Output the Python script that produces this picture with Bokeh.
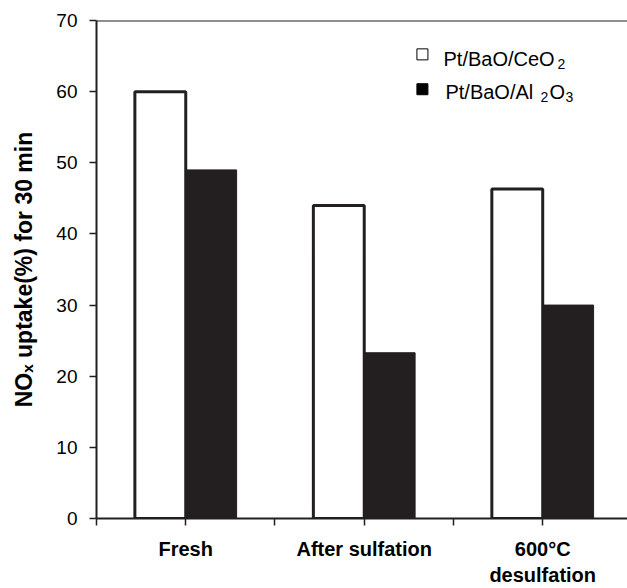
import numpy as np
from bokeh.plotting import figure
from bokeh.models import Range1d, Span, Label, FixedTicker, ColumnDataSource
from bokeh.embed import file_html
from bokeh.resources import INLINE

# ---- data ----
categories = ["Fresh", "After sulfation", "600°C\ndesulfation"]
ceo2_values = [60.0, 44.0, 46.3]      # Pt/BaO/CeO2 (white bars)
al2o3_values = [49.0, 23.3, 30.0]     # Pt/BaO/Al2O3 (black bars)
y_ticks = [0, 10, 20, 30, 40, 50, 60, 70]

INK = "#231f20"
FONT = "Liberation Sans"

cat_centers = np.arange(len(categories)) + 0.5
bar_w = 0.285

p = figure(width=627, height=588, output_backend="svg", toolbar_location=None,
           x_range=Range1d(0, 2.975), y_range=Range1d(0, 70),
           min_border_left=96, min_border_right=0, min_border_top=20,
           min_border_bottom=68)
p.outline_line_color = None
p.xgrid.visible = False
p.ygrid.visible = False
p.background_fill_color = "white"
p.border_fill_color = "white"

src = ColumnDataSource(dict(xw=cat_centers - bar_w / 2, xb=cat_centers + bar_w / 2,
                            ceo2=ceo2_values, al2o3=al2o3_values))
p.vbar(x="xw", top="ceo2", width=bar_w, bottom=0, source=src,
       fill_color="white", line_color=INK, line_width=3)
p.vbar(x="xb", top="al2o3", width=bar_w, bottom=0, source=src,
       fill_color=INK, line_color=INK, line_width=1)

# y axis
ya = p.yaxis[0]
ya.ticker = FixedTicker(ticks=y_ticks)
ya.axis_line_color = INK
ya.axis_line_width = 2
ya.major_tick_line_color = INK
ya.major_tick_line_width = 1.5
ya.major_tick_out = 7
ya.major_tick_in = 0
ya.minor_tick_line_color = None
ya.major_label_standoff = 12
ya.major_label_text_font = FONT
ya.major_label_text_font_size = "19px"
ya.major_label_text_color = "black"
ya.axis_label = "NO\u2093 uptake(%) for 30 min"
ya.axis_label_text_font = FONT
ya.axis_label_text_font_size = "23px"
ya.axis_label_text_font_style = "bold"
ya.axis_label_text_color = "black"
ya.axis_label_standoff = 16

# x axis: category names between the tick marks
xticks = [0, 0.5, 1, 1.5, 2, 2.5]
xa = p.xaxis[0]
xa.ticker = FixedTicker(ticks=xticks)
overrides = {t: "" for t in xticks}
for c, name in zip(cat_centers, categories):
    overrides[float(c)] = name
xa.major_label_overrides = overrides
xa.axis_line_color = INK
xa.axis_line_width = 2
xa.major_tick_line_color = INK
xa.major_tick_line_width = 1.5
xa.major_tick_out = 7
xa.major_tick_in = 0
xa.minor_tick_line_color = None
xa.major_label_standoff = 12
xa.major_label_text_font = FONT
xa.major_label_text_font_size = "20px"
xa.major_label_text_font_style = "bold"
xa.major_label_text_color = "black"

p.add_layout(Span(location=70, dimension="width", line_color=INK, line_width=2))

# ---- legend ----
def lab(x, y, text, size):
    p.add_layout(Label(x=x, y=y, text=text, text_font=FONT,
                       text_font_size=f"{size}px", text_align="left",
                       text_baseline="alphabetic", text_color="black"))

p.scatter(x=[1.826, 1.826], y=[65.24, 60.34], marker="square", size=11,
          fill_color=["white", "black"], line_color="black", line_width=1)
lab(1.944, 64.54, "Pt/BaO/CeO", 20)
lab(2.583, 63.84, "2", 14)
lab(1.955, 59.92, "Pt/BaO/Al", 20)
lab(2.487, 59.22, "2", 14)
lab(2.538, 59.92, "O", 20)
lab(2.627, 59.22, "3", 14)

open("out.html", "w").write(file_html(p, INLINE))
